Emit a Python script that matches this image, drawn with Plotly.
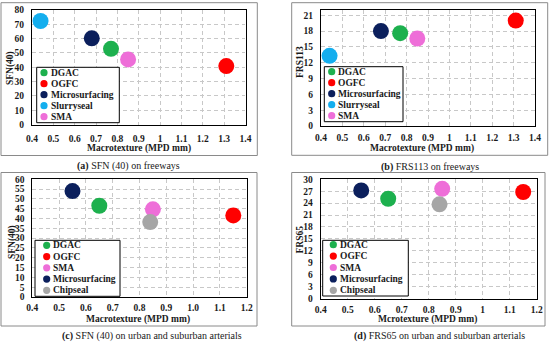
import plotly.graph_objects as go

W, H = 550, 345

# ---------------- data ----------------
mat_fw = ["DGAC", "OGFC", "Microsurfacing", "Slurryseal", "SMA"]
mpd_fw = [0.77, 1.31, 0.68, 0.44, 0.85]
sfn_fw = [52.9, 40.8, 60.2, 72.3, 45.5]
frs113_fw = [17.6, 20.0, 18.0, 13.3, 16.6]

mat_ua = ["DGAC", "OGFC", "SMA", "Microsurfacing", "Chipseal"]
mpd_ua = [0.65, 1.15, 0.85, 0.55, 0.84]
sfn_ua = [46.5, 41.6, 44.7, 54.0, 38.2]
frs65_ua = [25.1, 26.8, 27.6, 27.2, 23.7]

x_fw_ticks = [0.4, 0.5, 0.6, 0.7, 0.8, 0.9, 1.0, 1.1, 1.2, 1.3, 1.4]
x_fw_labels = ["0.4", "0.5", "0.6", "0.7", "0.8", "0.9", "1", "1.1", "1.2", "1.3", "1.4"]
x_ua_ticks = [0.4, 0.5, 0.6, 0.7, 0.8, 0.9, 1.0, 1.1, 1.2]
x_c_labels = ["0.4", "0.5", "0.6", "0.7", "0.8", "0.9", "1.0", "1.1", "1.2"]
x_d_labels = ["0.4", "0.5", "0.6", "0.7", "0.8", "0.9", "1", "1.1", "1.2"]
y_a_ticks = [0, 10, 20, 30, 40, 50, 60, 70, 80]
y_b_ticks = [0, 3, 6, 9, 12, 15, 18, 21]
y_c_ticks = [0, 5, 10, 15, 20, 25, 30, 35, 40, 45, 50, 55, 60]
y_d_ticks = [0, 3, 6, 9, 12, 15, 18, 21, 24, 27, 30]

colors = {
    "DGAC": "#1DB04E",
    "OGFC": "#FF0000",
    "Microsurfacing": "#0B1F5C",
    "Slurryseal": "#14AEEE",
    "SMA": "#EE6ED8",
    "Chipseal": "#A6A6A6",
}

FONT = "Liberation Serif"
TXT = "#1a1a1a"


def px(x):
    return x / W


def py(y):
    return 1 - y / H


panels = [
    dict(mats=mat_fw, xs=mpd_fw, ys=sfn_fw, xr=[0.4, 1.4], yr=[0, 80],
         xt=x_fw_ticks, xl=x_fw_labels, yt=y_a_ticks, xso=5,
         box=(32, 10, 245.5, 124.5), frame=(1, 2.7, 257.3, 155.5),
         xtitle="Macrotexture (MPD mm)", xtpos=(138.8, 148.6),
         ytitle="SFN(40)", ytpos=(10, 68),
         cap_b="(a)", cap=" SFN (40) on freeways", cappos=(128.3, 165.5),
         leg=(36.7, 67.3, 119.3, 122.7), leg_mx=44, leg_tx=48.5, leg_y0=72.7, leg_dy=11.0),
    dict(mats=mat_fw, xs=mpd_fw, ys=frs113_fw, xr=[0.4, 1.4], yr=[0, 22],
         xt=x_fw_ticks, xl=x_fw_labels, yt=y_b_ticks, xso=3,
         box=(321, 10, 535, 126), frame=(291.7, 2.7, 547.7, 155.3),
         xtitle="Macrotexture (MPD mm)", xtpos=(421.7, 148.6),
         ytitle="FRS113", ytpos=(300, 62),
         cap_b="(b)", cap=" FRS113 on freeways", cappos=(430, 166.5),
         leg=(324.3, 66.7, 403, 121.7), leg_mx=331.7, leg_tx=336.2, leg_y0=71.7, leg_dy=11.0),
    dict(mats=mat_ua, xs=mpd_ua, ys=sfn_ua, xr=[0.4, 1.2], yr=[0, 60],
         xt=x_ua_ticks, xl=x_c_labels, yt=y_c_ticks, xso=2,
         box=(32.3, 179.3, 246.7, 297), frame=(1, 172.5, 257, 326),
         xtitle="Macrotexture (MPD mm)", xtpos=(138.3, 319.5),
         ytitle="SFN(40)", ytpos=(12, 242),
         cap_b="(c)", cap=" SFN (40) on urban and suburban arterials", cappos=(152, 335.5),
         leg=(35, 240.3, 120, 296.3), leg_mx=46.7, leg_tx=51.2, leg_y0=245.3, leg_dy=11.25),
    dict(mats=mat_ua, xs=mpd_ua, ys=frs65_ua, xr=[0.4, 1.2], yr=[0, 30],
         xt=x_ua_ticks, xl=x_d_labels, yt=y_d_ticks, xso=2,
         box=(320.7, 179.3, 536.7, 298.5), frame=(291.7, 172.5, 545, 326),
         xtitle="Mcrotexture (MPD mm)", xtpos=(427.5, 319.8),
         ytitle="FRS65", ytpos=(300, 239.5),
         cap_b="(d)", cap=" FRS65 on urban and suburban arterials", cappos=(439, 335.5),
         leg=(322.7, 240.3, 408.3, 296), leg_mx=333.3, leg_tx=337.8, leg_y0=244.7, leg_dy=11.4),
]

fig = go.Figure()
layout = dict(
    width=W, height=H, margin=dict(l=0, r=0, t=0, b=0, autoexpand=False),
    paper_bgcolor="white", plot_bgcolor="white", showlegend=False,
    font=dict(family=FONT, color=TXT),
)
shapes = []
annotations = []

for i, p in enumerate(panels):
    n = "" if i == 0 else str(i + 1)
    xa, ya = "xaxis" + n, "yaxis" + n
    x0, y0, x1, y1 = p["box"]
    axis_common = dict(
        showline=True, mirror=True, linecolor="black", linewidth=1,
        showgrid=True, gridcolor="#C8C8C8", griddash="4px,3px", gridwidth=1,
        zeroline=False, ticks="", automargin=False,
        tickfont=dict(family=FONT, size=9.5, color=TXT, weight="bold"),
    )
    layout[xa] = dict(axis_common, domain=[px(x0), px(x1)], range=p["xr"],
                      tickvals=p["xt"], ticktext=p["xl"], anchor="y" + n,
                      ticklabelstandoff=p["xso"])
    layout[ya] = dict(axis_common, domain=[py(y1), py(y0)], range=p["yr"],
                      tickvals=p["yt"], anchor="x" + n, ticklabelstandoff=5)
    for m, xv, yv in zip(p["mats"], p["xs"], p["ys"]):
        fig.add_trace(go.Scatter(
            x=[xv], y=[yv], mode="markers", name=m, xaxis="x" + n, yaxis="y" + n,
            marker=dict(size=16, color=colors[m], line=dict(width=0)),
            cliponaxis=False, hoverinfo="skip",
        ))
    # outer frame
    fx0, fy0, fx1, fy1 = p["frame"]
    shapes.append(dict(type="rect", xref="paper", yref="paper",
                       x0=px(fx0), x1=px(fx1), y0=py(fy1), y1=py(fy0),
                       line=dict(color="#8a8a8a", width=1), layer="below"))
    # axis titles
    annotations.append(dict(text="<b>" + p["xtitle"] + "</b>", xref="paper", yref="paper",
                            x=px(p["xtpos"][0]), y=py(p["xtpos"][1]), showarrow=False,
                            xanchor="center", yanchor="middle",
                            font=dict(family=FONT, size=9.5, color=TXT)))
    annotations.append(dict(text="<b>" + p["ytitle"] + "</b>", xref="paper", yref="paper",
                            x=px(p["ytpos"][0]), y=py(p["ytpos"][1]), showarrow=False,
                            textangle=-90, xanchor="center", yanchor="middle",
                            font=dict(family=FONT, size=9.5, color=TXT)))
    # caption
    annotations.append(dict(text="<b>" + p["cap_b"] + "</b>" + p["cap"], xref="paper", yref="paper",
                            x=px(p["cappos"][0]), y=py(p["cappos"][1]), showarrow=False,
                            xanchor="center", yanchor="middle",
                            font=dict(family=FONT, size=10, color=TXT)))
    # legend
    lx0, ly0, lx1, ly1 = p["leg"]
    shapes.append(dict(type="rect", xref="paper", yref="paper",
                       x0=px(lx0), x1=px(lx1), y0=py(ly1), y1=py(ly0),
                       line=dict(color="black", width=1), fillcolor="white", layer="above"))
    r = 3.6
    for k, m in enumerate(p["mats"]):
        yy = p["leg_y0"] + k * p["leg_dy"]
        shapes.append(dict(type="circle", xref="paper", yref="paper",
                           x0=px(p["leg_mx"] - r), x1=px(p["leg_mx"] + r),
                           y0=py(yy + r), y1=py(yy - r),
                           fillcolor=colors[m], line=dict(width=0), layer="above"))
        annotations.append(dict(text="<b>" + m + "</b>", xref="paper", yref="paper",
                                x=px(p["leg_tx"]), y=py(yy), showarrow=False,
                                xanchor="left", yanchor="middle",
                                font=dict(family=FONT, size=9.5, color=TXT)))

layout["shapes"] = shapes
layout["annotations"] = annotations
fig.update_layout(**layout)
fig.write_html("out.html", config={"displayModeBar": False},
               post_script="document.body.style.margin='0';document.body.style.padding='0';")
